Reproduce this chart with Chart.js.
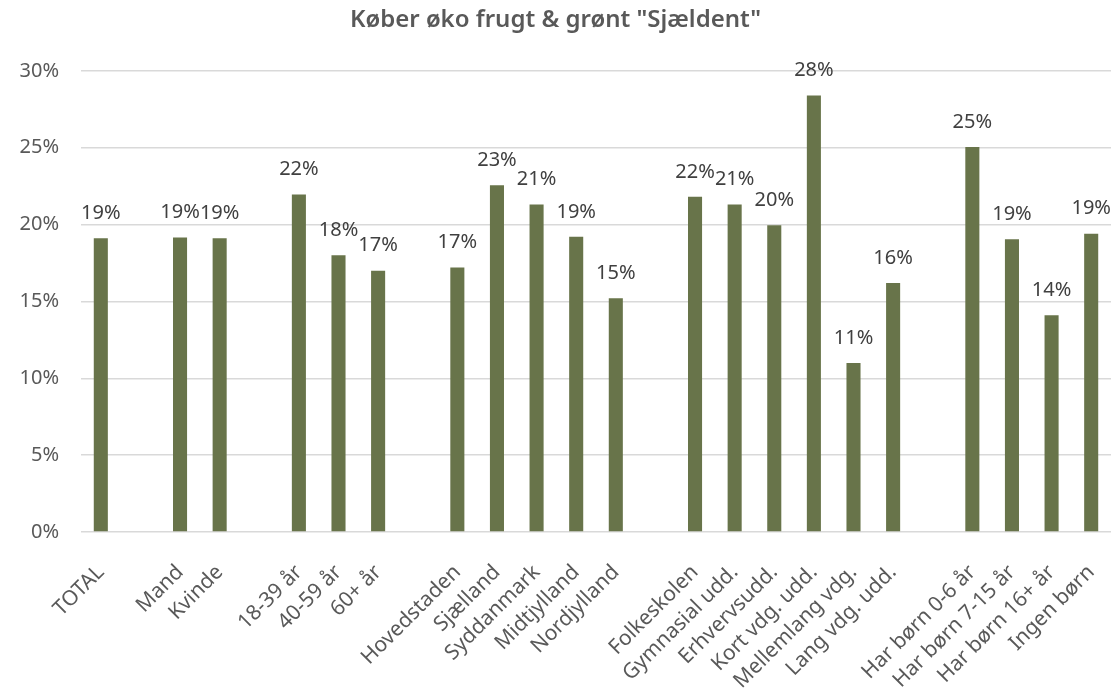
<!DOCTYPE html>
<html><head><meta charset="utf-8">
<script src="https://cdn.jsdelivr.net/npm/chart.js@4.4.1/dist/chart.umd.min.js"></script>
<style>html,body{margin:0;padding:0;background:#fff}#wrap{width:1114px;height:697px}</style>
</head><body><div id="wrap"><canvas id="c" width="1114" height="697"></canvas></div>
<script>
const categories = ["TOTAL","","Mand","Kvinde","","18-39 år","40-59 år","60+ år","","Hovedstaden","Sjælland","Syddanmark","Midtjylland","Nordjylland","","Folkeskolen","Gymnasial udd.","Erhvervsudd.","Kort vdg. udd.","Mellemlang vdg.","Lang vdg. udd.","","Har børn 0-6 år","Har børn 7-15 år","Har børn 16+ år","Ingen børn"];
const values = [19.1,null,19.15,19.1,null,21.95,18.0,17.0,null,17.2,22.55,21.3,19.2,15.2,null,21.8,21.3,19.95,28.4,11.0,16.2,null,25.05,19.05,14.1,19.4];
const yTicks = [0,5,10,15,20,25,30];
const FONT = "'Noto Sans', 'Open Sans', sans-serif";
const labelPlugin = {
  id:'dl',
  afterDatasetsDraw(chart){
    const ctx = chart.ctx;
    const meta = chart.getDatasetMeta(0);
    ctx.save();
    ctx.font = "20px " + FONT;
    ctx.fillStyle = "#404040";
    ctx.textAlign = "center";
    ctx.textBaseline = "middle";
    meta.data.forEach((el,i)=>{
      const v = values[i];
      if (v===null) return;
      ctx.fillText(Math.round(v)+"%", el.x, el.y - 25);
    });
    ctx.restore();
  }
};
new Chart(document.getElementById('c'),{
  type:'bar',
  data:{labels:categories,datasets:[{data:values,backgroundColor:'#68744a',barPercentage:0.355,categoryPercentage:1.0}]},
  options:{
    responsive:false,animation:false,
    layout:{padding:{left:0,right:3,top:0,bottom:0}},
    plugins:{legend:{display:false},tooltip:{enabled:false},
      title:{display:true,text:'Køber øko frugt & grønt "Sjældent"',color:'#595959',font:{family:FONT,size:24,weight:'600'},padding:{top:6,bottom:36}}},
    scales:{
      x:{grid:{display:false},border:{display:false},
        afterFit(ax){ax.height = 165; ax.paddingLeft = 0; ax.paddingRight = 0;},
        ticks:{color:'#595959',font:{family:FONT,size:21},minRotation:45,maxRotation:45,autoSkip:false,padding:20}},
      y:{min:0,max:30,grid:{color:'#d9d9d9',lineWidth:1.5,drawTicks:false},border:{display:false},
        afterFit(ax){ax.width = 81; ax.paddingTop = 0; ax.paddingBottom = 0;},
        afterBuildTicks(ax){ax.ticks = yTicks.map(v=>({value:v}));},
        ticks:{color:'#595959',font:{family:FONT,size:20},padding:22,callback:v=>v+'%'}}
    }
  },
  plugins:[labelPlugin]
});
</script></body></html>
